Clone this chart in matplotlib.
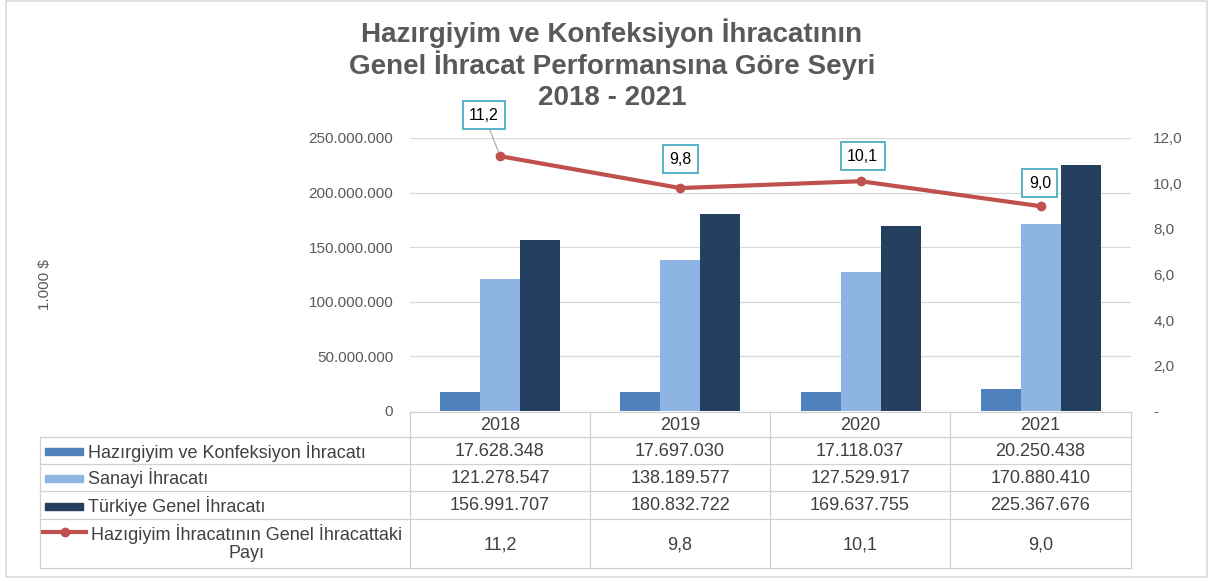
import matplotlib
matplotlib.use("Agg")
import matplotlib.pyplot as plt
from matplotlib.lines import Line2D
from matplotlib.patches import Rectangle
import numpy as np

plt.rcParams['font.family'] = ['Liberation Sans', 'DejaVu Sans']

# data
years = ['2018', '2019', '2020', '2021']
hazirgiyim = [17628348, 17697030, 17118037, 20250438]
sanayi = [121278547, 138189577, 127529917, 170880410]
genel = [156991707, 180832722, 169637755, 225367676]
pay = [11.2, 9.8, 10.1, 9.0]

series_names = ['Hazırgiyim ve Konfeksiyon İhracatı',
                'Sanayi İhracatı',
                'Türkiye Genel İhracatı',
                'Hazıgiyim İhracatının Genel İhracattaki\nPayı']
left_ticks = [0, 50000000, 100000000, 150000000, 200000000, 250000000]
right_ticks = [0, 2, 4, 6, 8, 10, 12]

title_lines = ['Hazırgiyim ve Konfeksiyon İhracatının',
               'Genel İhracat Performansına Göre Seyri',
               '2018 - 2021']

c1, c2, c3 = '#4F81BD', '#8EB4E3', '#243F60'
red = '#C0504D'
txt = '#595959'
grid = '#D9D9D9'

W, H = 1215, 581
fig = plt.figure(figsize=(W / 100, H / 100), dpi=100)


def fx(x):
    return x / W


def fy(y):
    return 1 - y / H


# outer border
fig.add_artist(Rectangle((fx(6), fy(577)), fx(1207) - fx(6), fy(1) - fy(577),
                         fill=False, ec='#D9D9D9', lw=1.2))

for k, line in enumerate(title_lines):
    fig.text(fx(612), fy(33 + 32.5 * k), line, ha='center', va='center', fontsize=20,
             fontweight='bold', color=txt)

# plot area
L, R, T, B = 410, 1131, 138, 411
ax = fig.add_axes([fx(L), fy(B), fx(R) - fx(L), fy(T) - fy(B)])
ax.patch.set_alpha(0)
x = np.arange(len(years))
bw = 0.222
ax.bar(x - bw, hazirgiyim, bw, color=c1, zorder=3)
ax.bar(x, sanayi, bw, color=c2, zorder=3)
ax.bar(x + bw, genel, bw, color=c3, zorder=3)
ax.set_xlim(-0.5, 3.5)
ax.set_ylim(0, 250000000)
ax.set_yticks(left_ticks)
ax.set_yticklabels(['{:,}'.format(v).replace(',', '.') for v in left_ticks],
                   fontsize=11, color=txt)
ax.yaxis.grid(True, color=grid, lw=0.9, zorder=0)
ax.set_xticks([])
ax.tick_params(axis='y', length=0, pad=12)
for s in ax.spines.values():
    s.set_visible(False)
fig.text(fx(45), fy(285), '1.000 $', rotation=90, ha='center', va='center',
         fontsize=11, color=txt)

ax2 = ax.twinx()
ax2.set_ylim(0, 12)
ax2.set_yticks(right_ticks)
ax2.set_yticklabels(['-' if v == 0 else '{:.1f}'.format(v).replace('.', ',') for v in right_ticks],
                    fontsize=11, color=txt)
ax2.tick_params(axis='y', length=0, pad=16)
for s in ax2.spines.values():
    s.set_visible(False)
ax2.plot(x, pay, color=red, lw=3, marker='o', ms=6, zorder=5)

offs = [(-16, 41), (0, 29), (2, 25), (-1, 23)]
for i, v in enumerate(pay):
    lab = '{:.1f}'.format(v).replace('.', ',')
    arrow = dict(arrowstyle='-', color='#A6A6A6', lw=0.8, shrinkA=0, shrinkB=3) if i == 0 else None
    ax2.annotate(lab, (x[i], v), xytext=offs[i], textcoords='offset pixels',
                 ha='center', va='center', fontsize=11.5, color='black',
                 bbox=dict(boxstyle='square,pad=0.4', fc='white', ec='#4BACC6', lw=1.3),
                 arrowprops=arrow, zorder=6)

# data table
rows = [412, 437, 464, 491, 519, 568]
cols = [410, 590, 770, 950, 1131]
tl = '#D0D0D0'


def hline(x0, x1, y):
    fig.add_artist(Line2D([fx(x0), fx(x1)], [fy(y), fy(y)], color=tl, lw=0.9))


def vline(x0, y0, y1):
    fig.add_artist(Line2D([fx(x0), fx(x0)], [fy(y0), fy(y1)], color=tl, lw=0.9))


hline(L, R, rows[0])
for y in rows[1:]:
    hline(40, R, y)
vline(40, rows[1], rows[-1])
for c in cols:
    vline(c, rows[0], rows[-1])

tcol = '#404040'
fs = 13
for j, yr in enumerate(years):
    cx = (cols[j] + cols[j + 1]) / 2
    fig.text(fx(cx), fy(425), yr, ha='center', va='center', fontsize=fs, color=tcol)
    for r, vals in enumerate([hazirgiyim, sanayi, genel]):
        cy = (rows[r + 1] + rows[r + 2]) / 2
        fig.text(fx(cx), fy(cy + 1), '{:,}'.format(vals[j]).replace(',', '.'),
                 ha='center', va='center', fontsize=fs, color=tcol)
    fig.text(fx(cx), fy(545), '{:.1f}'.format(pay[j]).replace('.', ','),
             ha='center', va='center', fontsize=fs, color=tcol)

for r, col in enumerate([c1, c2, c3]):
    cy = (rows[r + 1] + rows[r + 2]) / 2 + 1
    fig.add_artist(Rectangle((fx(45), fy(cy + 3.5)), fx(38), 7 / H, color=col))
    fig.text(fx(88), fy(cy), series_names[r], ha='left', va='center', fontsize=fs, color=tcol)

fig.add_artist(Line2D([fx(43), fx(86)], [fy(532), fy(532)], color=red, lw=3))
fig.add_artist(Line2D([fx(65)], [fy(532)], color=red, marker='o', ms=6))
fig.text(fx(247), fy(543), series_names[3], ha='center', va='center', fontsize=fs,
         color=tcol, multialignment='center', linespacing=1.05)

fig.savefig('out.png', dpi=100)
